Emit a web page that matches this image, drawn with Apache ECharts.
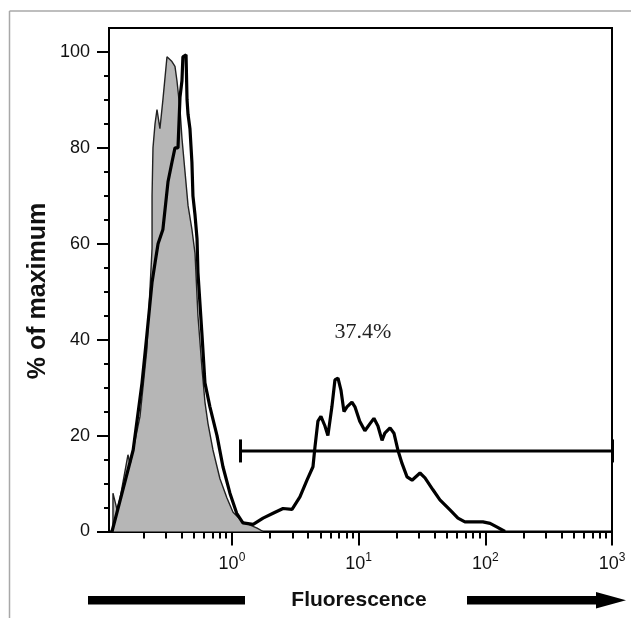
<!DOCTYPE html>
<html><head><meta charset="utf-8">
<script src="https://cdn.jsdelivr.net/npm/echarts@6/dist/echarts.min.js"></script>
<style>html,body{margin:0;padding:0;background:#fff}#c{width:631px;height:618px}</style>
</head><body><div id="c"></div>
<script>
// ---- data (fluorescence intensity on a log scale, % of maximum) ----
const xMinFluor = 0.107, xMaxFluor = 1000;
const yMin = 0, yMax = 105;
const yTickLabels = [0, 20, 40, 60, 80, 100];
const yMinorTicks = [5,10,15,25,30,35,45,50,55,65,70,75,85,90,95];
const xDecadeExponents = [0, 1, 2, 3];          // labelled as 10^n
const xMinorMultipliers = [2,3,4,5,6,7,8,9];
const xMinorDecades = [-1, 0, 1, 2];
const xAxisTitle = 'Fluorescence';
const yAxisTitle = '% of maximum';

// control (grey filled)
const controlX = [0.115,0.115,0.124,0.131,0.151,0.157,0.188,0.213,0.234,0.234,0.238,0.247,0.256,0.270,0.285,0.307,0.336,0.355,0.368,0.389,0.403,0.426,0.450,0.483,0.511,0.539,0.580,0.612,0.647,0.708,0.804,0.913,1.02,1.22,1.58,1.76];
const controlY = [0,8,4.5,7,16,14,24,38,59,70,80,85,88,84,90,99,98,97,94,88,82,75,68,63,58,45,34,27,22.5,17,11,7,4,2,0.7,0];

// sample (thick black)
const sampleX = [0.113,0.131,0.166,0.195,0.213,0.234,0.247,0.261,0.285,0.313,0.336,0.355,0.375,0.389,0.403,0.410,0.434,0.442,0.450,0.466,0.483,0.492,0.511,0.530,0.539,0.580,0.612,0.670,0.762,0.849,0.964,1.09,1.22,1.47,1.76,2.11,2.53,2.98,3.44,3.91,4.36,4.52,4.77,5.04,5.42,5.72,6.15,6.50,6.87,7.25,7.66,8.09,8.85,9.35,10.2,11.2,12.3,13.2,14.2,15.3,16.1,17.7,19.0,20.4,22.0,24.1,26.4,30.5,33.4,38.6,43.8,52.6,60.8,69.0,95.7,109,124,143];
const sampleY = [0,6.5,17,31,41,52,56,60,63,73,77,80,80,90.6,94,99,99.4,90,87,84,77,70,66,61,54,41,31,26,20,13.5,8,3.8,1.8,1.5,2.8,3.8,4.8,4.6,7.2,10.7,13.5,17.6,23,24,22,20,26,31.6,32,29.5,25,26,27,26,23,21,22.5,23.6,22,19,20.5,21.6,20.5,17,14.2,11.4,10.7,12.2,11.2,8.7,6.6,4.5,2.8,2,2,1.7,0.9,0];

// gate
const gateStart = 1.16, gateEnd = 1000, gateLevel = 16.8, gateCapHalf = 2.4;
const gateText = '37.4%';
const gateTextPos = [10.8, 41.5];

// ---- build ----
const L = Math.log10;
const pairs = (xs, ys) => xs.map((x, i) => [L(x), ys[i]]);
const xMinorTicks = [];
xMinorDecades.forEach(n => xMinorMultipliers.forEach(k => {
  const v = k * Math.pow(10, n);
  if (v >= xMinFluor && v <= xMaxFluor) xMinorTicks.push(L(v));
}));
const xMin = L(xMinFluor), xMax = L(xMaxFluor);
const black = '#000';
const font = 'Liberation Sans, Arial, sans-serif';

const chart = echarts.init(document.getElementById('c'), null, {renderer: 'canvas'});
chart.setOption({
  animation: false,
  backgroundColor: '#fff',
  grid: {left: 109, right: 19, top: 28, bottom: 86.5, show: true, borderColor: black, borderWidth: 2, backgroundColor: 'transparent'},
  xAxis: [{
    type: 'value', min: xMin, max: xMax, position: 'bottom',
    axisLine: {show: true, onZero: false, lineStyle: {color: black, width: 2}},
    axisTick: {show: true, inside: false, length: 14, customValues: xDecadeExponents, lineStyle: {color: black, width: 2}},
    splitLine: {show: false},
    axisLabel: {
      show: true, margin: 20, customValues: xDecadeExponents, fontFamily: font, color: '#111',
      formatter: v => '{b|10}{s|' + Math.round(v) + '}',
      rich: {b: {fontSize: 18, lineHeight: 26, fontFamily: font}, s: {fontSize: 12, lineHeight: 12, verticalAlign: 'top', fontFamily: font}}
    }
  }, {
    type: 'value', min: xMin, max: xMax, position: 'bottom',
    axisLine: {show: false, onZero: false},
    axisTick: {show: true, inside: false, length: 7, customValues: xMinorTicks, lineStyle: {color: black, width: 2}},
    axisLabel: {show: false}, splitLine: {show: false}
  }],
  yAxis: [{
    type: 'value', min: yMin, max: yMax, position: 'left',
    axisLine: {show: true, onZero: false, lineStyle: {color: black, width: 2}},
    axisTick: {show: true, inside: false, length: 12, customValues: yTickLabels, lineStyle: {color: black, width: 2}},
    splitLine: {show: false},
    axisLabel: {show: true, margin: 19, customValues: yTickLabels, fontFamily: font, fontSize: 18, color: '#111'}
  }, {
    type: 'value', min: yMin, max: yMax, position: 'left',
    axisLine: {show: false, onZero: false},
    axisTick: {show: true, inside: false, length: 5, customValues: yMinorTicks, lineStyle: {color: black, width: 2}},
    axisLabel: {show: false}, splitLine: {show: false}
  }],
  series: [{
    name: 'control', type: 'line', data: pairs(controlX, controlY), symbol: 'none', z: 2,
    lineStyle: {color: '#222', width: 1.4}, areaStyle: {color: '#b6b6b6', opacity: 1}
  }, {
    name: 'sample', type: 'line', data: pairs(sampleX, sampleY), symbol: 'none', z: 3,
    lineStyle: {color: black, width: 3.2}
  }, {
    name: 'gate', type: 'line', data: [[L(gateStart), gateLevel], [L(gateEnd), gateLevel]], symbol: 'none', z: 4,
    lineStyle: {color: black, width: 3},
    markLine: {
      silent: true, symbol: 'none', label: {show: false},
      lineStyle: {color: black, width: 3, type: 'solid'},
      data: [
        [{coord: [L(gateStart), gateLevel - gateCapHalf]}, {coord: [L(gateStart), gateLevel + gateCapHalf]}],
        [{coord: [L(gateEnd), gateLevel - gateCapHalf]}, {coord: [L(gateEnd), gateLevel + gateCapHalf]}]
      ]
    },
    markPoint: {
      symbol: 'circle', symbolSize: 0,
      label: {show: true, position: 'inside', formatter: gateText, fontFamily: 'Liberation Serif, Times New Roman, serif', fontSize: 22, color: '#222'},
      data: [{coord: [L(gateTextPos[0]), gateTextPos[1]]}]
    }
  }],
  graphic: [
    {type: 'line', shape: {x1: 9.5, y1: 11, x2: 631, y2: 11}, style: {stroke: '#a8a8a8', lineWidth: 1.5}},
    {type: 'line', shape: {x1: 9.5, y1: 11, x2: 9.5, y2: 618}, style: {stroke: '#a8a8a8', lineWidth: 1.5}},
    {type: 'rect', shape: {x: 88, y: 596, width: 157, height: 8.5}, style: {fill: black}},
    {type: 'rect', shape: {x: 467, y: 596, width: 132, height: 8.5}, style: {fill: black}},
    {type: 'polygon', shape: {points: [[596, 592], [626, 600.25], [596, 608.5]]}, style: {fill: black}},
    {type: 'text', x: 359, y: 600, style: {text: xAxisTitle, font: 'bold 21px ' + font, fill: '#111', align: 'center', verticalAlign: 'middle'}},
    {type: 'text', x: 38, y: 291, rotation: Math.PI / 2, style: {text: yAxisTitle, font: 'bold 25px ' + font, fill: '#111', align: 'center', verticalAlign: 'middle'}}
  ]
});
</script></body></html>
